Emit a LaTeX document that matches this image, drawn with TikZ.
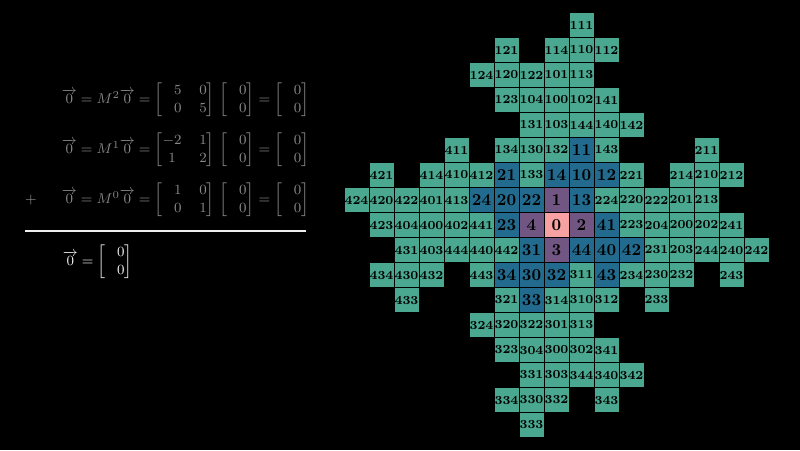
\documentclass[tikz,border=0pt]{standalone}
\usepackage{amsmath}
\usetikzlibrary{positioning}
\definecolor{cellteal}{HTML}{49A88F}
\definecolor{cellblue}{HTML}{236B8E}
\definecolor{cellpurple}{HTML}{715582}
\definecolor{cellpink}{HTML}{F7A1A3}
\definecolor{eqgray}{HTML}{8A8A8A}
\definecolor{eqwhite}{HTML}{EEEEEE}
\tikzset{
  cellbox/.style={draw=black, line width=0.5pt, minimum size=0.5cm, inner sep=0pt, text=black},
  threecell/.style={cellbox, fill=cellteal, font=\fontsize{7}{8}\selectfont\bfseries},
  twocell/.style={cellbox, fill=cellblue, font=\fontsize{9.5}{10}\selectfont\bfseries},
  onecell/.style={cellbox, fill=cellpurple, font=\fontsize{9.5}{10}\selectfont\bfseries},
  zerocell/.style={cellbox, fill=cellpink, font=\fontsize{9.5}{10}\selectfont\bfseries},
  cell/.code={\ifnum#1=0 \pgfkeysalso{zerocell}\else\ifnum#1<10 \pgfkeysalso{onecell}\else
    \ifnum#1<100 \pgfkeysalso{twocell}\else\pgfkeysalso{threecell}\fi\fi\fi},
  eqtext/.style={text=eqgray, anchor=west, inner sep=0pt, font=\fontsize{8.5}{10.2}\selectfont},
  sumtext/.style={eqtext, text=eqwhite},
  sumrule/.style={draw=eqwhite, line width=1.1pt}}
\newcommand\vz{\overrightarrow{0}}
\newcommand\zvec{\begin{bmatrix}\phantom{-}0\\ \phantom{-}0\end{bmatrix}}

\begin{document}
\begin{tikzpicture}
    \fill[black] (0,0) rectangle (16,9);
    \useasboundingbox (0,0) rectangle (16,9);
    % the three terms and their sum
    \node[eqtext] (eqtwo) at (1.23,7.0)
      {$\vz = M^2\vz = \begin{bmatrix}\phantom{-}5 & 0\\ \phantom{-}0 & 5\end{bmatrix}\,\zvec = \zvec$};
    \node[eqtext] (eqone) at (1.23,6.0)
      {$\vz = M^1\vz = \begin{bmatrix}-2 & 1\\ 1 & 2\end{bmatrix}\,\zvec = \zvec$};
    \node[eqtext] (eqzero) at (1.23,5.0)
      {$\vz = M^0\vz = \begin{bmatrix}\phantom{-}1 & 0\\ \phantom{-}0 & 1\end{bmatrix}\,\zvec = \zvec$};
    \node[eqtext, anchor=center] (plus) at (0.62,5.0) {$+$};
    \coordinate (ruleleft) at (0.5,4.38);
    \coordinate (ruleright) at (6.12,4.38);
    \draw[sumrule] (ruleleft) -- (ruleright);
    \node[sumtext] (total) at (1.25,3.76) {$\vz = \zvec$};
    % digit grid, one row per line
    \begin{scope}[shift={(11.13,4.5)}, x=0.5cm, y=-0.5cm]
      \foreach \c/\lab in {1/111}
        \node[cell=\lab] (n\lab) at (\c,-8) {\lab};
      \foreach \c/\lab in {-2/121,0/114,1/110,2/112}
        \node[cell=\lab] (n\lab) at (\c,-7) {\lab};
      \foreach \c/\lab in {-3/124,-2/120,-1/122,0/101,1/113}
        \node[cell=\lab] (n\lab) at (\c,-6) {\lab};
      \foreach \c/\lab in {-2/123,-1/104,0/100,1/102,2/141}
        \node[cell=\lab] (n\lab) at (\c,-5) {\lab};
      \foreach \c/\lab in {-1/131,0/103,1/144,2/140,3/142}
        \node[cell=\lab] (n\lab) at (\c,-4) {\lab};
      \foreach \c/\lab in {-4/411,-2/134,-1/130,0/132,1/11,2/143,6/211}
        \node[cell=\lab] (n\lab) at (\c,-3) {\lab};
      \foreach \c/\lab in {-7/421,-5/414,-4/410,-3/412,-2/21,-1/133,0/14,1/10,2/12,3/221,5/214,6/210,7/212}
        \node[cell=\lab] (n\lab) at (\c,-2) {\lab};
      \foreach \c/\lab in {-8/424,-7/420,-6/422,-5/401,-4/413,-3/24,-2/20,-1/22,0/1,1/13,2/224,3/220,4/222,5/201,6/213}
        \node[cell=\lab] (n\lab) at (\c,-1) {\lab};
      \foreach \c/\lab in {-7/423,-6/404,-5/400,-4/402,-3/441,-2/23,-1/4,0/0,1/2,2/41,3/223,4/204,5/200,6/202,7/241}
        \node[cell=\lab] (n\lab) at (\c,0) {\lab};
      \foreach \c/\lab in {-6/431,-5/403,-4/444,-3/440,-2/442,-1/31,0/3,1/44,2/40,3/42,4/231,5/203,6/244,7/240,8/242}
        \node[cell=\lab] (n\lab) at (\c,1) {\lab};
      \foreach \c/\lab in {-7/434,-6/430,-5/432,-3/443,-2/34,-1/30,0/32,1/311,2/43,3/234,4/230,5/232,7/243}
        \node[cell=\lab] (n\lab) at (\c,2) {\lab};
      \foreach \c/\lab in {-6/433,-2/321,-1/33,0/314,1/310,2/312,4/233}
        \node[cell=\lab] (n\lab) at (\c,3) {\lab};
      \foreach \c/\lab in {-3/324,-2/320,-1/322,0/301,1/313}
        \node[cell=\lab] (n\lab) at (\c,4) {\lab};
      \foreach \c/\lab in {-2/323,-1/304,0/300,1/302,2/341}
        \node[cell=\lab] (n\lab) at (\c,5) {\lab};
      \foreach \c/\lab in {-1/331,0/303,1/344,2/340,3/342}
        \node[cell=\lab] (n\lab) at (\c,6) {\lab};
      \foreach \c/\lab in {-2/334,-1/330,0/332,2/343}
        \node[cell=\lab] (n\lab) at (\c,7) {\lab};
      \foreach \c/\lab in {-1/333}
        \node[cell=\lab] (n\lab) at (\c,8) {\lab};
    \end{scope}
  \end{tikzpicture}
\end{document}
